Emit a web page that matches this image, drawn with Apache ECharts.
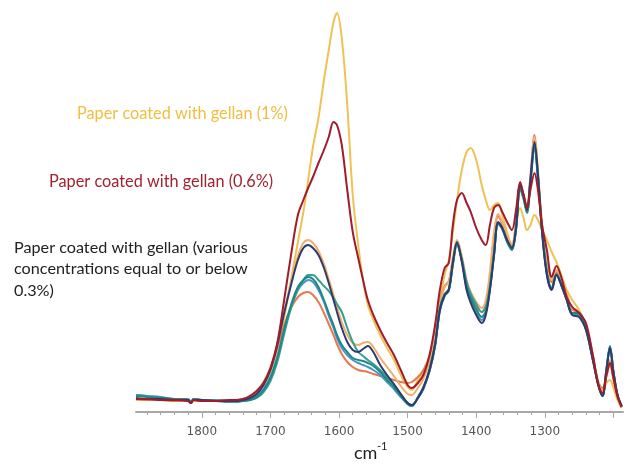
<!DOCTYPE html>
<html>
<head>
<meta charset="utf-8">
<script src="https://cdn.jsdelivr.net/npm/echarts@6/dist/echarts.min.js"></script>
<style>html,body{margin:0;padding:0;background:#fff}#c{width:626px;height:464px}</style>
</head>
<body>
<div id="c"></div>
<script>
// Wavenumbers (cm-1)
var wavenumbers = [
  1896,1880,1860,1840,1820,1816,1812,1800,1780,1760,1750,
  1740,1730,1720,1710,1700,1690,1680,1670,1660,1652,1645,
  1638,1630,1622,1615,1608,1603,1596,1588,1580,1572,1565,
  1558,1550,1540,1530,1520,1510,1500,1494,1485,1477,1468,
  1460,1453,1446,1440,1434,1428,1421,1414,1408,1400,1392,
  1386,1380,1374,1368,1362,1355,1348,1342,1336,1331,1326,
  1321,1315,1310,1304,1297,1290,1283,1276,1268,1260,1250,
  1240,1230,1222,1216,1210,1205,1200,1194,1188
];
// Absorbance (a.u. x1000)
var gellan1 = [
  12,12,12,11,11,9,11,11,11,11,11,
  12,15,20,27,40,62,94,132,170,200,232,
  265,294,332,362,390,399,374,307,217,167,132,
  107,92,77,64,52,37,25,22,32,40,57,
  82,112,137,152,180,212,242,260,264,252,227,
  212,202,207,209,197,180,164,187,204,194,182,
  187,197,192,182,172,160,150,137,122,112,102,
  82,52,27,22,29,32,24,12,4
];
var gellan06 = [
  13,13,12,12,11,9,12,11,11,12,12,
  13,16,21,29,44,69,112,157,197,212,224,
  235,249,262,275,290,287,267,222,180,154,132,
  112,97,82,69,57,42,27,24,29,37,57,
  87,122,144,149,187,212,219,209,200,184,172,
  167,187,204,207,200,190,182,202,230,217,204,
  222,239,222,187,162,135,146,135,115,105,99,
  89,57,27,19,37,49,34,16,5
];
var lowA = [ // dark navy
  14,13,13,12,12,9,12,12,11,11,11,
  12,14,18,27,42,67,99,127,152,164,167,
  164,157,144,129,112,100,84,70,62,60,63,
  66,60,47,37,28,18,9,7,14,24,42,
  67,102,117,122,150,170,150,122,109,97,89,
  97,122,157,190,184,172,164,184,227,217,202,
  232,270,237,180,137,122,137,127,112,97,95,
  82,52,27,16,42,64,40,17,6
];
var lowB = [ // dark teal
  16,15,14,13,12,10,13,12,11,11,11,
  11,12,15,22,34,54,82,107,125,132,135,
  133,125,112,99,87,77,67,60,54,52,51,
  49,46,40,32,25,16,8,6,15,25,43,
  68,104,118,123,148,168,152,126,114,103,95,
  101,124,158,188,183,170,162,182,224,214,200,
  230,265,235,182,140,124,138,128,113,99,99,
  84,54,28,17,44,66,41,17,6
];
var lowC = [ // green teal
  17,16,14,13,12,10,13,12,11,10,10,
  11,12,14,20,31,50,78,104,123,132,137,
  137,132,126,121,114,108,100,84,70,60,56,
  52,48,42,35,27,18,9,7,14,24,41,
  66,101,116,121,147,167,153,130,118,108,100,
  105,126,160,189,184,171,163,183,223,213,199,
  229,263,233,181,139,123,137,127,112,98,97,
  83,53,27,16,43,65,40,16,6
];
var lowD = [ // light blue
  17,16,15,13,13,10,13,12,12,11,11,
  12,13,16,23,35,55,82,105,122,129,132,
  130,122,110,96,84,74,64,57,52,49,47,
  45,42,37,30,23,15,8,6,14,23,41,
  66,102,117,122,149,169,151,124,112,100,92,
  99,123,157,189,183,171,163,183,225,215,201,
  231,268,236,181,138,123,137,127,112,97,96,
  83,53,27,16,43,65,40,17,6
];
var lowE = [ // peach
  13,13,12,12,12,9,12,12,11,12,12,
  13,15,19,28,43,68,100,130,156,169,172,
  169,161,148,133,117,105,90,77,69,67,69,
  70,65,54,45,36,26,18,17,24,33,50,
  75,108,125,130,155,172,156,132,120,110,104,
  112,140,180,198,190,177,168,190,228,218,205,
  235,275,240,188,148,132,142,132,118,104,100,
  86,56,29,22,38,52,35,16,5
];
var lowF = [ // orange
  13,12,12,11,11,9,12,11,11,12,12,
  13,16,21,30,44,64,87,104,115,119,120,
  117,110,99,88,77,68,58,50,45,42,41,
  40,38,36,34,32,30,29,30,35,42,56,
  80,110,126,131,152,168,152,128,116,106,100,
  108,135,175,196,188,175,166,188,226,216,204,
  236,277,240,186,145,130,140,130,116,102,100,
  86,57,30,24,36,48,33,15,5
];
var majorTicks = [1200,1300,1400,1500,1600,1700,1800];
var tickLabels = [1300,1400,1500,1600,1700,1800];
var minorTicks = [];
for (var t = 1200; t <= 1880; t += 20) minorTicks.push(t);

var labels = {
  y1: 'Paper coated with gellan (1%)',
  y06: 'Paper coated with gellan (0.6%)',
  low: ['Paper coated with gellan (various', 'concentrations equal to or below', '0.3%)']
};

function pairs(vals) {
  return wavenumbers.map(function (w, i) { return [w, vals[i]]; });
}
function line(name, vals, color, z) {
  return {
    name: name, type: 'line', data: pairs(vals), showSymbol: false, smooth: 0.35,
    lineStyle: { color: color, width: 2 }, z: z, silent: true, animation: false
  };
}

var chart = echarts.init(document.getElementById('c'), null, { renderer: 'canvas' });
chart.setOption({
  animation: false,
  backgroundColor: '#fff',
  grid: { left: 136, right: 3, top: 12, bottom: 52, containLabel: false, outerBoundsMode: 'none' },
  xAxis: [{
    type: 'value', inverse: true, min: 1186, max: 1896,
    axisLine: { show: true, lineStyle: { color: '#a8a8a8', width: 2 } },
    axisTick: { show: true, customValues: majorTicks, length: 6, lineStyle: { color: '#a8a8a8', width: 1 } },
    axisLabel: { customValues: tickLabels, margin: 14, color: '#555', fontFamily: 'DejaVu Sans', fontSize: 12,
      formatter: function (v) { return String(v); } },
    splitLine: { show: false }
  }, {
    type: 'value', inverse: true, min: 1186, max: 1896, position: 'bottom',
    axisLine: { show: false },
    axisTick: { show: true, customValues: minorTicks, length: 3, lineStyle: { color: '#a8a8a8', width: 1 } },
    axisLabel: { show: false },
    splitLine: { show: false }
  }],
  yAxis: { type: 'value', min: 0, max: 400, show: false, splitLine: { show: false } },
  series: [
    line('gellan 1%', gellan1, '#F0C255', 2),
    line('low F', lowF, '#E8794F', 3),
    line('low E', lowE, '#F2AE6A', 3),
    line('low D', lowD, '#4C93C6', 4),
    line('low C', lowC, '#35A08E', 4),
    line('low B', lowB, '#1E8886', 5),
    line('low A', lowA, '#2F3B6E', 5),
    line('gellan 0.6%', gellan06, '#A01C2C', 6)
  ],
  graphic: [
    { type: 'text', left: 77, top: 106, style: { text: labels.y1, fill: '#F0BE40', font: '16.3px Lato' } },
    { type: 'text', left: 49, top: 174, style: { text: labels.y06, fill: '#A3222F', font: '16.3px Lato' } },
    { type: 'text', left: 14, top: 240, style: { text: labels.low[0], fill: '#222', font: '16.2px Lato' } },
    { type: 'text', left: 14, top: 261, style: { text: labels.low[1], fill: '#222', font: '16.2px Lato' } },
    { type: 'text', left: 14, top: 283, style: { text: labels.low[2], fill: '#222', font: '16.2px Lato' } },
    { type: 'text', left: 354, top: 444, style: { text: 'cm', fill: '#222', font: '18px Lato' } },
    { type: 'text', left: 377, top: 441, style: { text: '-1', fill: '#222', font: '11px Lato' } }
  ]
});
</script>
</body>
</html>
